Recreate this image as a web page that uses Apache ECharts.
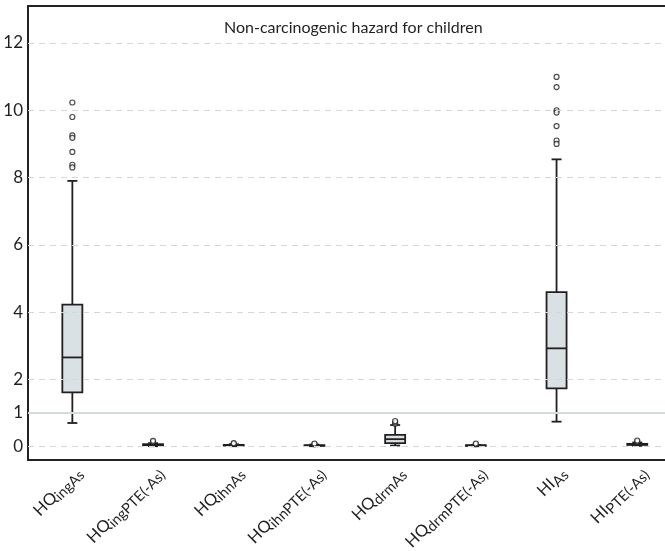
<!DOCTYPE html>
<html>
<head>
<meta charset="utf-8">
<script src="https://cdn.jsdelivr.net/npm/echarts@6/dist/echarts.min.js"></script>
<style>
  html, body { margin: 0; padding: 0; background: #fff; }
  #chart { width: 665px; height: 551px; }
</style>
</head>
<body>
<div id="chart"></div>
<script>
  // categories (base + subscript)
  const categories = ['HQingAs', 'HQingPTE(-As)', 'HQihnAs', 'HQihnPTE(-As)', 'HQdrmAs', 'HQdrmPTE(-As)', 'HIAs', 'HIPTE(-As)'];

  // box statistics, one entry per category
  const whiskerLow  = [0.70, 0.01, 0.01, 0.01, 0.03, 0.01, 0.74, 0.02];
  const quartile1   = [1.61, 0.04, 0.03, 0.02, 0.10, 0.02, 1.73, 0.05];
  const median      = [2.65, 0.05, 0.04, 0.03, 0.22, 0.03, 2.92, 0.06];
  const quartile3   = [4.22, 0.07, 0.05, 0.04, 0.35, 0.04, 4.59, 0.08];
  const whiskerHigh = [7.90, 0.10, 0.07, 0.06, 0.64, 0.05, 8.54, 0.12];

  const outliers = [
    [10.23, 9.80, 9.25, 9.18, 8.76, 8.38, 8.30],
    [0.14, 0.17],
    [0.08, 0.10],
    [0.07, 0.09],
    [0.68, 0.72, 0.76],
    [0.07, 0.09],
    [10.99, 10.69, 10.00, 9.93, 9.53, 9.10, 9.00],
    [0.15, 0.18]
  ];

  const yTickLabels = [0, 1, 2, 4, 6, 8, 10, 12];
  const dashedLines = [0, 2, 4, 6, 8, 10, 12];
  const refLine = 1;

  const yMin = -0.4, yMax = 13.1;
  const ink = '#231f20';

  let boxData = categories.map((c, i) =>
    [i, whiskerLow[i], quartile1[i], median[i], quartile3[i], whiskerHigh[i]]);

  let outlierData = [];
  outliers.forEach((list, i) => {
    list.forEach(v => outlierData.push([i, v]));
  });

  function labelFmt(val) {
    let m = /^(HQ|HI)(.*)$/.exec(val);
    return '{b|' + m[1] + '}{s|' + m[2] + '}';
  }

  function renderBox(params, api) {
    let x = api.value(0);
    let band = api.size([1, 0])[0];
    let half = band * 0.124;
    let cap = half / 2;
    let lo = api.coord([x, api.value(1)]);
    let q1 = api.coord([x, api.value(2)]);
    let md = api.coord([x, api.value(3)]);
    let q3 = api.coord([x, api.value(4)]);
    let hi = api.coord([x, api.value(5)]);
    let cx = lo[0];
    let st = { stroke: ink, lineWidth: 1.8 };
    return {
      type: 'group',
      children: [
        { type: 'line', shape: { x1: cx, y1: q3[1], x2: cx, y2: hi[1] }, style: st },
        { type: 'line', shape: { x1: cx, y1: q1[1], x2: cx, y2: lo[1] }, style: st },
        { type: 'line', shape: { x1: cx - cap, y1: hi[1], x2: cx + cap, y2: hi[1] }, style: st },
        { type: 'line', shape: { x1: cx - cap, y1: lo[1], x2: cx + cap, y2: lo[1] }, style: st },
        { type: 'rect', shape: { x: cx - half, y: q3[1], width: half * 2, height: q1[1] - q3[1] },
          style: { fill: '#d9e1e5', stroke: ink, lineWidth: 1.8 } },
        { type: 'line', shape: { x1: cx - half, y1: md[1], x2: cx + half, y2: md[1] }, style: st }
      ]
    };
  }

  let frameLine = { show: true, onZero: false, lineStyle: { color: '#222', width: 2 } };

  let myChart = echarts.init(document.getElementById('chart'));

  let option = {
    animation: false,
    textStyle: { fontFamily: 'Lato' },
    title: {
      text: 'Non-carcinogenic hazard for children',
      left: 219,
      top: 15,
      textStyle: { fontFamily: 'Lato', fontSize: 16, fontWeight: 'normal', color: ink }
    },
    grid: [
      { left: 28, width: 660, top: 6, bottom: 91, outerBoundsMode: 'none' },
      { left: 32, width: 645.6, top: 6, bottom: 91, outerBoundsMode: 'none' },
      { left: 39, width: 645.6, top: 6, bottom: 91, outerBoundsMode: 'none' }
    ],
    xAxis: [
      { type: 'value', gridIndex: 0, min: 0, max: 1, position: 'bottom',
        axisLine: frameLine, axisTick: { show: false }, axisLabel: { show: false }, splitLine: { show: false } },
      { type: 'value', gridIndex: 0, min: 0, max: 1, position: 'top',
        axisLine: frameLine, axisTick: { show: false }, axisLabel: { show: false }, splitLine: { show: false } },
      {
        type: 'category',
        gridIndex: 1,
        data: categories,
        axisLine: { show: false },
        axisTick: { show: false },
        axisLabel: { show: false }
      },
      {
        // label-only axis, nudged right like the original
        type: 'category',
        gridIndex: 2,
        data: categories,
        axisLine: { show: false },
        axisTick: { show: false },
        axisLabel: {
          interval: 0,
          rotate: 45,
          margin: 10,
          hideOverlap: false,
          formatter: labelFmt,
          rich: {
            b: { fontFamily: 'Lato', fontSize: 16.5, color: ink, lineHeight: 20 },
            s: { fontFamily: 'Lato', fontSize: 14.5, color: ink, lineHeight: 20, padding: [8, 0, 0, 0] }
          }
        }
      }
    ],
    yAxis: [
      {
        type: 'value',
        gridIndex: 0,
        min: yMin,
        max: yMax,
        position: 'left',
        axisLine: frameLine,
        axisTick: { show: false },
        splitLine: { show: false },
        axisLabel: {
          customValues: yTickLabels,
          margin: 5,
          fontFamily: 'Lato',
          fontSize: 17,
          color: ink
        }
      },
      { type: 'value', gridIndex: 1, min: yMin, max: yMax, show: false, splitLine: { show: false } },
      { type: 'value', gridIndex: 2, min: yMin, max: yMax, show: false, splitLine: { show: false } }
    ],
    series: [
      {
        type: 'line',
        xAxisIndex: 0,
        yAxisIndex: 0,
        data: [],
        silent: true,
        markLine: {
          silent: true,
          symbol: 'none',
          label: { show: false },
          data: dashedLines.map(v => ({
            yAxis: v,
            lineStyle: { color: '#cfd9d9', width: 1.2, type: [6, 5] }
          })).concat([{
            yAxis: refLine,
            lineStyle: { color: '#d5dbdb', width: 2, type: 'solid' }
          }])
        }
      },
      {
        type: 'custom',
        xAxisIndex: 2,
        yAxisIndex: 1,
        renderItem: renderBox,
        encode: { x: 0, y: [1, 2, 3, 4, 5] },
        data: boxData,
        z: 3
      },
      {
        type: 'scatter',
        xAxisIndex: 2,
        yAxisIndex: 1,
        symbol: 'circle',
        symbolSize: 5,
        itemStyle: { color: '#fff', borderColor: ink, borderWidth: 1.2 },
        data: outlierData,
        z: 4
      }
    ]
  };

  myChart.setOption(option);
</script>
</body>
</html>
